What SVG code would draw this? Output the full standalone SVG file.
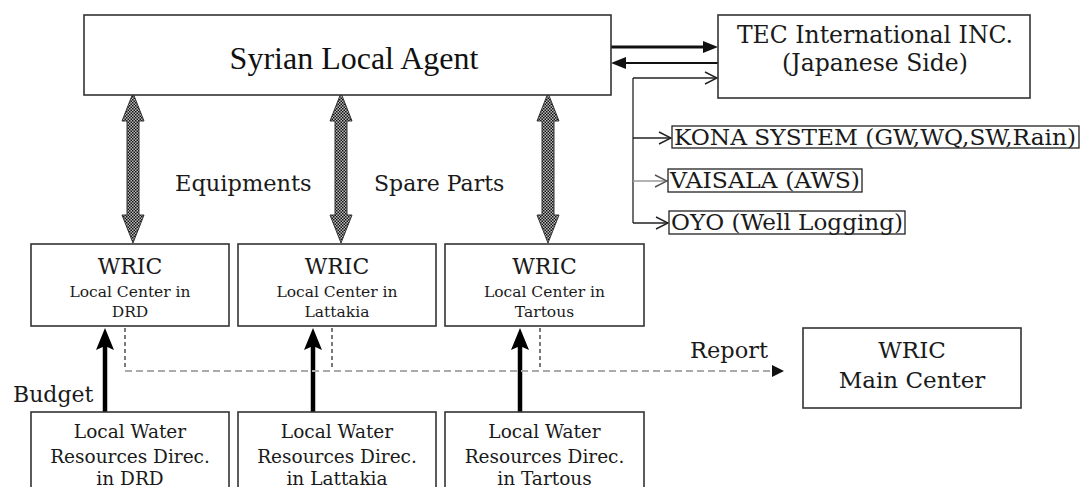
<svg xmlns="http://www.w3.org/2000/svg" width="1089" height="487" viewBox="0 0 1089 487">
<defs>
<style>
.box{fill:#fff;stroke:#333;stroke-width:1.6}
.sbox{fill:#fff;stroke:#222;stroke-width:1.3}
.t{font-family:"DejaVu Serif","Liberation Serif",serif;fill:#1a1a1a}
.tm{font-family:"Liberation Serif","Times New Roman",serif;fill:#111}
.c{text-anchor:middle}
.dbl{fill:url(#chk);stroke:#333;stroke-width:1}
</style>
<pattern id="chk" width="3" height="3" patternUnits="userSpaceOnUse">
<rect width="3" height="3" fill="#bbb"/>
<rect width="1.5" height="1.5" fill="#111"/>
<rect x="1.5" y="1.5" width="1.5" height="1.5" fill="#111"/>
</pattern>
<marker id="oh" markerWidth="14" markerHeight="14" refX="13" refY="7" orient="auto" markerUnits="userSpaceOnUse">
<path d="M1,1 L13,7 L1,13" fill="none" stroke="#222" stroke-width="1.4"/>
</marker>
<marker id="ohg" markerWidth="14" markerHeight="14" refX="13" refY="7" orient="auto" markerUnits="userSpaceOnUse">
<path d="M1,1 L13,7 L1,13" fill="none" stroke="#555" stroke-width="1.4"/>
</marker>
</defs>
<rect width="1089" height="487" fill="#fff"/>

<g id="connectors">
<line x1="611" y1="47" x2="703" y2="47" stroke="#111" stroke-width="3.2"/>
<path d="M703,41 L718,47 L703,53 Z" fill="#111"/>
<line x1="718" y1="63" x2="626" y2="63" stroke="#111" stroke-width="2.2"/>
<path d="M626,57 L611,63 L626,69 Z" fill="#111"/>
<line x1="633" y1="78" x2="717" y2="78" stroke="#222" stroke-width="1.3" marker-end="url(#oh)"/>
<line x1="633" y1="78" x2="633" y2="223" stroke="#222" stroke-width="1.3"/>
<line x1="633" y1="138" x2="671" y2="138" stroke="#222" stroke-width="1.3" marker-end="url(#oh)"/>
<line x1="633" y1="181" x2="667" y2="181" stroke="#999" stroke-width="1.6" marker-end="url(#ohg)"/>
<line x1="633" y1="223" x2="668" y2="223" stroke="#222" stroke-width="1.3" marker-end="url(#oh)"/>
<path class="dbl" d="M133,93 L144,121 L139,121 L139,215 L144,215 L133,243 L122,215 L127,215 L127,121 L122,121 Z"/>
<path class="dbl" d="M341,93 L352,121 L347,121 L347,215 L352,215 L341,243 L330,215 L335,215 L335,121 L330,121 Z"/>
<path class="dbl" d="M548,93 L559,121 L554,121 L554,215 L559,215 L548,243 L537,215 L542,215 L542,121 L537,121 Z"/>
<line x1="105" y1="412" x2="105" y2="346" stroke="#000" stroke-width="4.5"/>
<path d="M105,328 L114,350 L105,346 L96,350 Z" fill="#000"/>
<line x1="313" y1="412" x2="313" y2="346" stroke="#000" stroke-width="4.5"/>
<path d="M313,328 L322,350 L313,346 L304,350 Z" fill="#000"/>
<line x1="520" y1="412" x2="520" y2="346" stroke="#000" stroke-width="4.5"/>
<path d="M520,328 L529,350 L520,346 L511,350 Z" fill="#000"/>
<g stroke="#222" stroke-width="1.2" stroke-dasharray="4,3">
<line x1="125" y1="328" x2="125" y2="370"/>
<line x1="332" y1="328" x2="332" y2="370"/>
<line x1="540" y1="328" x2="540" y2="370"/>
</g>
<line x1="125" y1="371" x2="772" y2="371" stroke="#aaa" stroke-width="2.2" stroke-dasharray="7,4"/>
<path d="M772,365 L784,371 L772,377 Z" fill="#111"/>
<text class="t" x="690" y="358" font-size="22.5">Report</text>
<text class="t" x="175" y="191" font-size="22.5">Equipments</text>
<text class="t" x="374" y="191" font-size="22">Spare Parts</text>
<text class="t" x="13" y="402" font-size="22">Budget</text>
</g>

<g id="agent">
<rect class="box" x="84" y="15" width="527" height="80"/>
<text class="tm c" x="354" y="69" font-size="32">Syrian Local Agent</text>
</g>

<g id="tec">
<rect class="box" x="718" y="15" width="312" height="83"/>
<text class="t c" x="875" y="43" font-size="23.5">TEC International INC.</text>
<text class="t c" x="875" y="71" font-size="23.5">(Japanese Side)</text>
</g>

<g id="kona">
<rect class="sbox" x="672" y="126" width="407" height="22"/>
<text class="t" x="674" y="145" font-size="22" textLength="402" lengthAdjust="spacingAndGlyphs">KONA SYSTEM (GW,WQ,SW,Rain)</text>
</g>
<g id="vaisala">
<rect class="sbox" x="668" y="169" width="194" height="23"/>
<text class="t" x="670" y="188" font-size="22" textLength="190" lengthAdjust="spacingAndGlyphs">VAISALA (AWS)</text>
</g>
<g id="oyo">
<rect class="sbox" x="669" y="211" width="236" height="23"/>
<text class="t" x="671" y="230" font-size="22" textLength="232" lengthAdjust="spacingAndGlyphs">OYO (Well Logging)</text>
</g>

<g id="wric-drd">
<rect class="box" x="31" y="244" width="198" height="82"/>
<text class="t c" x="130" y="274" font-size="22">WRIC</text>
<text class="t c" x="130" y="297" font-size="15.5">Local Center in</text>
<text class="t c" x="130" y="317" font-size="15.5">DRD</text>
</g>
<g id="wric-lattakia">
<rect class="box" x="238" y="244" width="198" height="82"/>
<text class="t c" x="337" y="274" font-size="22">WRIC</text>
<text class="t c" x="337" y="297" font-size="15.5">Local Center in</text>
<text class="t c" x="337" y="317" font-size="15.5">Lattakia</text>
</g>
<g id="wric-tartous">
<rect class="box" x="445" y="244" width="199" height="82"/>
<text class="t c" x="544.5" y="274" font-size="22">WRIC</text>
<text class="t c" x="544.5" y="297" font-size="15.5">Local Center in</text>
<text class="t c" x="544.5" y="317" font-size="15.5">Tartous</text>
</g>

<g id="lwr-drd">
<rect class="box" x="31" y="412" width="198" height="90"/>
<text class="t c" x="130" y="438" font-size="18.5">Local Water</text>
<text class="t c" x="130" y="463" font-size="18.5">Resources Direc.</text>
<text class="t c" x="130" y="485" font-size="18.5">in DRD</text>
</g>
<g id="lwr-lattakia">
<rect class="box" x="238" y="412" width="198" height="90"/>
<text class="t c" x="337" y="438" font-size="18.5">Local Water</text>
<text class="t c" x="337" y="463" font-size="18.5">Resources Direc.</text>
<text class="t c" x="337" y="485" font-size="18.5">in Lattakia</text>
</g>
<g id="lwr-tartous">
<rect class="box" x="445" y="412" width="199" height="90"/>
<text class="t c" x="544.5" y="438" font-size="18.5">Local Water</text>
<text class="t c" x="544.5" y="463" font-size="18.5">Resources Direc.</text>
<text class="t c" x="544.5" y="485" font-size="18.5">in Tartous</text>
</g>

<g id="wric-main">
<rect class="box" x="803" y="328" width="218" height="80"/>
<text class="t c" x="912" y="358" font-size="23">WRIC</text>
<text class="t c" x="912" y="388" font-size="23">Main Center</text>
</g>
</svg>
